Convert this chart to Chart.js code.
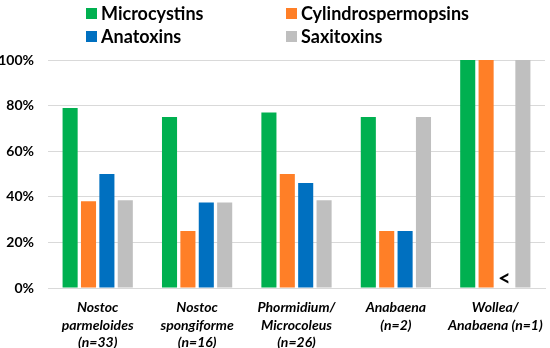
<!DOCTYPE html>
<html><head><meta charset="utf-8">
<script src="https://cdn.jsdelivr.net/npm/chart.js@4/dist/chart.umd.min.js"></script>
<style>html,body{margin:0;padding:0;background:#fff;}#wrap{width:550px;height:348px;position:relative;}</style>
</head><body><div id="wrap"><canvas id="c" width="550" height="348"></canvas></div>
<script>
const categories = [
  ['Nostoc', 'parmeloides', '(n=33)'],
  ['Nostoc', 'spongiforme', '(n=16)'],
  ['Phormidium/', 'Microcoleus', '(n=26)'],
  ['Anabaena', '(n=2)'],
  ['Wollea/', 'Anabaena (n=1)']
];
const seriesNames = ['Microcystins', 'Cylindrospermopsins', 'Anatoxins', 'Saxitoxins'];
const microcystins = [79, 75, 77, 75, 100];
const cylindrospermopsins = [38, 25, 50, 25, 100];
const anatoxins = [50, 37.5, 46, 25, 0];
const saxitoxins = [38.5, 37.5, 38.5, 75, 100];
const anatoxinMarks = ['', '', '', '', '<'];
const yTicks = [0, 20, 40, 60, 80, 100];
const colors = ['#00B050', '#FF7F27', '#0070C0', '#BFBFBF'];

const values = [microcystins, cylindrospermopsins, anatoxins, saxitoxins];
const datasets = seriesNames.map((n, i) => ({
  label: n, data: values[i], backgroundColor: colors[i],
  categoryPercentage: 0.74, barPercentage: 0.82
}));

const legendPlugin = {
  id: 'customLegend',
  afterDraw(chart) {
    const ctx = chart.ctx;
    ctx.save();
    ctx.font = 'bold 18px Lato, "Liberation Sans", sans-serif';
    ctx.textBaseline = 'middle';
    const cols = [86, 286], rows = [13, 36];
    chart.data.datasets.forEach((d, i) => {
      const x = cols[i % 2], y = rows[Math.floor(i / 2)];
      ctx.fillStyle = d.backgroundColor;
      ctx.fillRect(x, y - 5, 11, 11);
      ctx.fillStyle = '#000';
      ctx.fillText(d.label, x + 15, y + 1);
    });
    ctx.restore();
  }
};
const markPlugin = {
  id: 'marks',
  afterDatasetsDraw(chart) {
    const ctx = chart.ctx;
    const meta = chart.getDatasetMeta(2);
    ctx.save();
    ctx.font = 'bold 22px Lato, "Liberation Sans", sans-serif';
    ctx.fillStyle = '#000';
    ctx.textAlign = 'center';
    ctx.textBaseline = 'middle';
    anatoxinMarks.forEach((m, i) => {
      if (!m) return;
      const el = meta.data[i];
      ctx.fillText(m, el.x, chart.scales.y.getPixelForValue(0) - 9);
    });
    ctx.restore();
  }
};

new Chart(document.getElementById('c'), {
  type: 'bar',
  data: { labels: categories, datasets },
  options: {
    responsive: false, animation: false,
    layout: { padding: { top: 60, right: 5, left: 0, bottom: 0 } },
    plugins: { legend: { display: false }, tooltip: { enabled: false } },
    scales: {
      x: {
        grid: { display: false },
        border: { color: '#D9D9D9', width: 1 },
        ticks: { color: '#000', font: { family: 'Lato', size: 14, weight: 'bold', style: 'italic', lineHeight: 1.25 }, maxRotation: 0, autoSkip: false, padding: 3 },
        afterFit(s) { s.height = 60; }
      },
      y: {
        min: 0, max: 100,
        afterBuildTicks(s) { s.ticks = yTicks.map(v => ({ value: v })); },
        grid: { color: '#D9D9D9', drawTicks: false },
        border: { display: false },
        ticks: { color: '#000', font: { family: 'Lato', size: 14, weight: 'bold' }, padding: 14, callback: v => v + '%' },
        afterFit(s) { s.width = 48; }
      }
    }
  },
  plugins: [legendPlugin, markPlugin]
});
</script></body></html>
